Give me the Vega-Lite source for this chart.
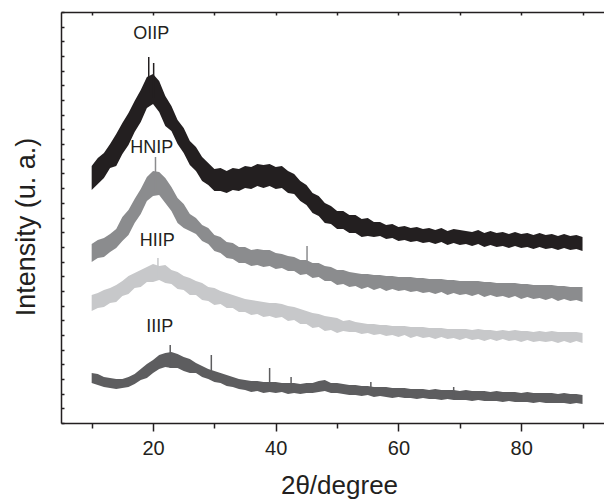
{
  "$schema": "https://vega.github.io/schema/vega-lite/v6.json",
  "width": 543,
  "height": 411,
  "autosize": {"type": "none"},
  "padding": {"left": 61, "top": 12, "right": 0, "bottom": 77},
  "background": "white",
  "config": {
    "view": {"stroke": null},
    "axis": {"grid": false, "domainColor": "#231f20", "domainWidth": 1.5, "tickColor": "#231f20", "tickWidth": 1.5, "labelFont": "Liberation Sans", "titleFont": "Liberation Sans", "labelColor": "#231f20", "titleColor": "#231f20", "titleFontWeight": "normal"}
  },
  "datasets": {
    "xrd": [
      {"s":"OIIP","x":10,"lo":233,"hi":257},{"s":"OIIP","x":11,"lo":239,"hi":265},{"s":"OIIP","x":12,"lo":245,"hi":270},{"s":"OIIP","x":13,"lo":255,"hi":279},{"s":"OIIP","x":14,"lo":257,"hi":289},{"s":"OIIP","x":15,"lo":269,"hi":300},{"s":"OIIP","x":16,"lo":278,"hi":310},{"s":"OIIP","x":17,"lo":291,"hi":322},{"s":"OIIP","x":18,"lo":301,"hi":333},{"s":"OIIP","x":19,"lo":315,"hi":346},{"s":"OIIP","x":20,"lo":319,"hi":349},{"s":"OIIP","x":21,"lo":311,"hi":342},{"s":"OIIP","x":22,"lo":297,"hi":327},{"s":"OIIP","x":23,"lo":292,"hi":317},{"s":"OIIP","x":24,"lo":279,"hi":303},{"s":"OIIP","x":25,"lo":270,"hi":295},{"s":"OIIP","x":26,"lo":258,"hi":282},{"s":"OIIP","x":27,"lo":252,"hi":276},{"s":"OIIP","x":28,"lo":242,"hi":266},{"s":"OIIP","x":29,"lo":238,"hi":260},{"s":"OIIP","x":30,"lo":232,"hi":254},{"s":"OIIP","x":31,"lo":232,"hi":255},{"s":"OIIP","x":32,"lo":230,"hi":252},{"s":"OIIP","x":33,"lo":233,"hi":255},{"s":"OIIP","x":34,"lo":232,"hi":254},{"s":"OIIP","x":35,"lo":235,"hi":257},{"s":"OIIP","x":36,"lo":234,"hi":256},{"s":"OIIP","x":37,"lo":237,"hi":259},{"s":"OIIP","x":38,"lo":235,"hi":258},{"s":"OIIP","x":39,"lo":237,"hi":259},{"s":"OIIP","x":40,"lo":234,"hi":256},{"s":"OIIP","x":41,"lo":235,"hi":257},{"s":"OIIP","x":42,"lo":230,"hi":252},{"s":"OIIP","x":43,"lo":229,"hi":249},{"s":"OIIP","x":44,"lo":222,"hi":242},{"s":"OIIP","x":45,"lo":218,"hi":238},{"s":"OIIP","x":46,"lo":210,"hi":230},{"s":"OIIP","x":47,"lo":207,"hi":227},{"s":"OIIP","x":48,"lo":200,"hi":220},{"s":"OIIP","x":49,"lo":199,"hi":217},{"s":"OIIP","x":50,"lo":194,"hi":212},{"s":"OIIP","x":51,"lo":194,"hi":212},{"s":"OIIP","x":52,"lo":190,"hi":208},{"s":"OIIP","x":53,"lo":190,"hi":208},{"s":"OIIP","x":54,"lo":186,"hi":204},{"s":"OIIP","x":55,"lo":187,"hi":205},{"s":"OIIP","x":56,"lo":186,"hi":201},{"s":"OIIP","x":57,"lo":187,"hi":201},{"s":"OIIP","x":58,"lo":184,"hi":198},{"s":"OIIP","x":59,"lo":185,"hi":199},{"s":"OIIP","x":60,"lo":182,"hi":196},{"s":"OIIP","x":61,"lo":183,"hi":197},{"s":"OIIP","x":62,"lo":181,"hi":195},{"s":"OIIP","x":63,"lo":182,"hi":196},{"s":"OIIP","x":64,"lo":180,"hi":194},{"s":"OIIP","x":65,"lo":181,"hi":195},{"s":"OIIP","x":66,"lo":179,"hi":193},{"s":"OIIP","x":67,"lo":181,"hi":195},{"s":"OIIP","x":68,"lo":178,"hi":192},{"s":"OIIP","x":69,"lo":180,"hi":194},{"s":"OIIP","x":70,"lo":178,"hi":193},{"s":"OIIP","x":71,"lo":179,"hi":192},{"s":"OIIP","x":72,"lo":177,"hi":191},{"s":"OIIP","x":73,"lo":179,"hi":193},{"s":"OIIP","x":74,"lo":176,"hi":190},{"s":"OIIP","x":75,"lo":178,"hi":192},{"s":"OIIP","x":76,"lo":176,"hi":190},{"s":"OIIP","x":77,"lo":177,"hi":191},{"s":"OIIP","x":78,"lo":175,"hi":189},{"s":"OIIP","x":79,"lo":177,"hi":191},{"s":"OIIP","x":80,"lo":175,"hi":189},{"s":"OIIP","x":81,"lo":176,"hi":190},{"s":"OIIP","x":82,"lo":174,"hi":188},{"s":"OIIP","x":83,"lo":176,"hi":190},{"s":"OIIP","x":84,"lo":174,"hi":188},{"s":"OIIP","x":85,"lo":175,"hi":189},{"s":"OIIP","x":86,"lo":173,"hi":187},{"s":"OIIP","x":87,"lo":175,"hi":189},{"s":"OIIP","x":88,"lo":173,"hi":187},{"s":"OIIP","x":89,"lo":174,"hi":188},{"s":"OIIP","x":90,"lo":172,"hi":186},
      {"s":"HNIP","x":10,"lo":161,"hi":179},{"s":"HNIP","x":11,"lo":165,"hi":183},{"s":"HNIP","x":12,"lo":166,"hi":185},{"s":"HNIP","x":13,"lo":171,"hi":189},{"s":"HNIP","x":14,"lo":175,"hi":194},{"s":"HNIP","x":15,"lo":182,"hi":206},{"s":"HNIP","x":16,"lo":188,"hi":213},{"s":"HNIP","x":17,"lo":200,"hi":224},{"s":"HNIP","x":18,"lo":209,"hi":234},{"s":"HNIP","x":19,"lo":222,"hi":246},{"s":"HNIP","x":20,"lo":227,"hi":252},{"s":"HNIP","x":21,"lo":228,"hi":251},{"s":"HNIP","x":22,"lo":220,"hi":245},{"s":"HNIP","x":23,"lo":212,"hi":236},{"s":"HNIP","x":24,"lo":200,"hi":225},{"s":"HNIP","x":25,"lo":195,"hi":219},{"s":"HNIP","x":26,"lo":192,"hi":209},{"s":"HNIP","x":27,"lo":189,"hi":205},{"s":"HNIP","x":28,"lo":182,"hi":198},{"s":"HNIP","x":29,"lo":179,"hi":195},{"s":"HNIP","x":30,"lo":172,"hi":188},{"s":"HNIP","x":31,"lo":170,"hi":186},{"s":"HNIP","x":32,"lo":165,"hi":181},{"s":"HNIP","x":33,"lo":164,"hi":180},{"s":"HNIP","x":34,"lo":160,"hi":176},{"s":"HNIP","x":35,"lo":160,"hi":176},{"s":"HNIP","x":36,"lo":157,"hi":173},{"s":"HNIP","x":37,"lo":158,"hi":174},{"s":"HNIP","x":38,"lo":156,"hi":173},{"s":"HNIP","x":39,"lo":157,"hi":173},{"s":"HNIP","x":40,"lo":154,"hi":170},{"s":"HNIP","x":41,"lo":155,"hi":169},{"s":"HNIP","x":42,"lo":152,"hi":167},{"s":"HNIP","x":43,"lo":152,"hi":166},{"s":"HNIP","x":44,"lo":148,"hi":163},{"s":"HNIP","x":45,"lo":149,"hi":163},{"s":"HNIP","x":46,"lo":145,"hi":160},{"s":"HNIP","x":47,"lo":146,"hi":160},{"s":"HNIP","x":48,"lo":142,"hi":157},{"s":"HNIP","x":49,"lo":142,"hi":156},{"s":"HNIP","x":50,"lo":138,"hi":153},{"s":"HNIP","x":51,"lo":139,"hi":153},{"s":"HNIP","x":52,"lo":136,"hi":151},{"s":"HNIP","x":53,"lo":137,"hi":150},{"s":"HNIP","x":54,"lo":134,"hi":149},{"s":"HNIP","x":55,"lo":136,"hi":149},{"s":"HNIP","x":56,"lo":133,"hi":148},{"s":"HNIP","x":57,"lo":135,"hi":148},{"s":"HNIP","x":58,"lo":132,"hi":147},{"s":"HNIP","x":59,"lo":134,"hi":147},{"s":"HNIP","x":60,"lo":132,"hi":146},{"s":"HNIP","x":61,"lo":133,"hi":146},{"s":"HNIP","x":62,"lo":131,"hi":146},{"s":"HNIP","x":63,"lo":132,"hi":145},{"s":"HNIP","x":64,"lo":130,"hi":145},{"s":"HNIP","x":65,"lo":131,"hi":144},{"s":"HNIP","x":66,"lo":129,"hi":144},{"s":"HNIP","x":67,"lo":131,"hi":144},{"s":"HNIP","x":68,"lo":128,"hi":143},{"s":"HNIP","x":69,"lo":130,"hi":143},{"s":"HNIP","x":70,"lo":128,"hi":142},{"s":"HNIP","x":71,"lo":129,"hi":142},{"s":"HNIP","x":72,"lo":127,"hi":142},{"s":"HNIP","x":73,"lo":129,"hi":142},{"s":"HNIP","x":74,"lo":126,"hi":141},{"s":"HNIP","x":75,"lo":128,"hi":141},{"s":"HNIP","x":76,"lo":126,"hi":140},{"s":"HNIP","x":77,"lo":127,"hi":140},{"s":"HNIP","x":78,"lo":125,"hi":140},{"s":"HNIP","x":79,"lo":127,"hi":140},{"s":"HNIP","x":80,"lo":124,"hi":139},{"s":"HNIP","x":81,"lo":126,"hi":139},{"s":"HNIP","x":82,"lo":124,"hi":138},{"s":"HNIP","x":83,"lo":125,"hi":138},{"s":"HNIP","x":84,"lo":123,"hi":138},{"s":"HNIP","x":85,"lo":125,"hi":138},{"s":"HNIP","x":86,"lo":122,"hi":137},{"s":"HNIP","x":87,"lo":124,"hi":137},{"s":"HNIP","x":88,"lo":122,"hi":136},{"s":"HNIP","x":89,"lo":123,"hi":136},{"s":"HNIP","x":90,"lo":121,"hi":136},
      {"s":"HIIP","x":10,"lo":112,"hi":128},{"s":"HIIP","x":11,"lo":115,"hi":130},{"s":"HIIP","x":12,"lo":116,"hi":133},{"s":"HIIP","x":13,"lo":120,"hi":135},{"s":"HIIP","x":14,"lo":121,"hi":138},{"s":"HIIP","x":15,"lo":127,"hi":142},{"s":"HIIP","x":16,"lo":129,"hi":147},{"s":"HIIP","x":17,"lo":135,"hi":150},{"s":"HIIP","x":18,"lo":136,"hi":153},{"s":"HIIP","x":19,"lo":141,"hi":156},{"s":"HIIP","x":20,"lo":141,"hi":159},{"s":"HIIP","x":21,"lo":143,"hi":157},{"s":"HIIP","x":22,"lo":140,"hi":158},{"s":"HIIP","x":23,"lo":139,"hi":153},{"s":"HIIP","x":24,"lo":134,"hi":151},{"s":"HIIP","x":25,"lo":133,"hi":147},{"s":"HIIP","x":26,"lo":128,"hi":145},{"s":"HIIP","x":27,"lo":128,"hi":142},{"s":"HIIP","x":28,"lo":123,"hi":140},{"s":"HIIP","x":29,"lo":122,"hi":136},{"s":"HIIP","x":30,"lo":118,"hi":135},{"s":"HIIP","x":31,"lo":119,"hi":132},{"s":"HIIP","x":32,"lo":115,"hi":130},{"s":"HIIP","x":33,"lo":115,"hi":128},{"s":"HIIP","x":34,"lo":111,"hi":126},{"s":"HIIP","x":35,"lo":111,"hi":124},{"s":"HIIP","x":36,"lo":108,"hi":123},{"s":"HIIP","x":37,"lo":109,"hi":122},{"s":"HIIP","x":38,"lo":106,"hi":121},{"s":"HIIP","x":39,"lo":107,"hi":120},{"s":"HIIP","x":40,"lo":105,"hi":120},{"s":"HIIP","x":41,"lo":106,"hi":119},{"s":"HIIP","x":42,"lo":102,"hi":117},{"s":"HIIP","x":43,"lo":103,"hi":116},{"s":"HIIP","x":44,"lo":99,"hi":114},{"s":"HIIP","x":45,"lo":99,"hi":112},{"s":"HIIP","x":46,"lo":95,"hi":110},{"s":"HIIP","x":47,"lo":96,"hi":109},{"s":"HIIP","x":48,"lo":92,"hi":107},{"s":"HIIP","x":49,"lo":93,"hi":106},{"s":"HIIP","x":50,"lo":90,"hi":105},{"s":"HIIP","x":51,"lo":92,"hi":102},{"s":"HIIP","x":52,"lo":91,"hi":103},{"s":"HIIP","x":53,"lo":91,"hi":101},{"s":"HIIP","x":54,"lo":89,"hi":100},{"s":"HIIP","x":55,"lo":90,"hi":99},{"s":"HIIP","x":56,"lo":88,"hi":99},{"s":"HIIP","x":57,"lo":89,"hi":98},{"s":"HIIP","x":58,"lo":87,"hi":98},{"s":"HIIP","x":59,"lo":88,"hi":97},{"s":"HIIP","x":60,"lo":86,"hi":97},{"s":"HIIP","x":61,"lo":88,"hi":97},{"s":"HIIP","x":62,"lo":85,"hi":96},{"s":"HIIP","x":63,"lo":87,"hi":96},{"s":"HIIP","x":64,"lo":85,"hi":96},{"s":"HIIP","x":65,"lo":86,"hi":95},{"s":"HIIP","x":66,"lo":84,"hi":95},{"s":"HIIP","x":67,"lo":86,"hi":95},{"s":"HIIP","x":68,"lo":84,"hi":94},{"s":"HIIP","x":69,"lo":85,"hi":94},{"s":"HIIP","x":70,"lo":83,"hi":94},{"s":"HIIP","x":71,"lo":85,"hi":94},{"s":"HIIP","x":72,"lo":83,"hi":93},{"s":"HIIP","x":73,"lo":84,"hi":94},{"s":"HIIP","x":74,"lo":82,"hi":93},{"s":"HIIP","x":75,"lo":84,"hi":93},{"s":"HIIP","x":76,"lo":82,"hi":92},{"s":"HIIP","x":77,"lo":84,"hi":93},{"s":"HIIP","x":78,"lo":82,"hi":92},{"s":"HIIP","x":79,"lo":83,"hi":93},{"s":"HIIP","x":80,"lo":81,"hi":92},{"s":"HIIP","x":81,"lo":83,"hi":92},{"s":"HIIP","x":82,"lo":81,"hi":91},{"s":"HIIP","x":83,"lo":82,"hi":92},{"s":"HIIP","x":84,"lo":81,"hi":91},{"s":"HIIP","x":85,"lo":82,"hi":92},{"s":"HIIP","x":86,"lo":80,"hi":91},{"s":"HIIP","x":87,"lo":82,"hi":91},{"s":"HIIP","x":88,"lo":80,"hi":91},{"s":"HIIP","x":89,"lo":82,"hi":91},{"s":"HIIP","x":90,"lo":80,"hi":90},
      {"s":"IIIP","x":10,"lo":40,"hi":50},{"s":"IIIP","x":11,"lo":38,"hi":49},{"s":"IIIP","x":12,"lo":36,"hi":46},{"s":"IIIP","x":13,"lo":35,"hi":45},{"s":"IIIP","x":14,"lo":34,"hi":44},{"s":"IIIP","x":15,"lo":35,"hi":44},{"s":"IIIP","x":16,"lo":36,"hi":46},{"s":"IIIP","x":17,"lo":39,"hi":49},{"s":"IIIP","x":18,"lo":43,"hi":54},{"s":"IIIP","x":19,"lo":45,"hi":59},{"s":"IIIP","x":20,"lo":50,"hi":63},{"s":"IIIP","x":21,"lo":54,"hi":68},{"s":"IIIP","x":22,"lo":56,"hi":70},{"s":"IIIP","x":23,"lo":55,"hi":71},{"s":"IIIP","x":24,"lo":55,"hi":69},{"s":"IIIP","x":25,"lo":52,"hi":66},{"s":"IIIP","x":26,"lo":50,"hi":64},{"s":"IIIP","x":27,"lo":50,"hi":60},{"s":"IIIP","x":28,"lo":46,"hi":57},{"s":"IIIP","x":29,"lo":44,"hi":54},{"s":"IIIP","x":30,"lo":41,"hi":52},{"s":"IIIP","x":31,"lo":40,"hi":50},{"s":"IIIP","x":32,"lo":37,"hi":48},{"s":"IIIP","x":33,"lo":36,"hi":46},{"s":"IIIP","x":34,"lo":34,"hi":44},{"s":"IIIP","x":35,"lo":33,"hi":43},{"s":"IIIP","x":36,"lo":31,"hi":42},{"s":"IIIP","x":37,"lo":32,"hi":42},{"s":"IIIP","x":38,"lo":30,"hi":41},{"s":"IIIP","x":39,"lo":31,"hi":41},{"s":"IIIP","x":40,"lo":30,"hi":41},{"s":"IIIP","x":41,"lo":31,"hi":40},{"s":"IIIP","x":42,"lo":29,"hi":40},{"s":"IIIP","x":43,"lo":30,"hi":40},{"s":"IIIP","x":44,"lo":29,"hi":39},{"s":"IIIP","x":45,"lo":30,"hi":40},{"s":"IIIP","x":46,"lo":30,"hi":40},{"s":"IIIP","x":47,"lo":31,"hi":42},{"s":"IIIP","x":48,"lo":32,"hi":43},{"s":"IIIP","x":49,"lo":30,"hi":40},{"s":"IIIP","x":50,"lo":30,"hi":40},{"s":"IIIP","x":51,"lo":29,"hi":39},{"s":"IIIP","x":52,"lo":28,"hi":38},{"s":"IIIP","x":53,"lo":28,"hi":38},{"s":"IIIP","x":54,"lo":27,"hi":37},{"s":"IIIP","x":55,"lo":28,"hi":37},{"s":"IIIP","x":56,"lo":26,"hi":36},{"s":"IIIP","x":57,"lo":27,"hi":36},{"s":"IIIP","x":58,"lo":26,"hi":36},{"s":"IIIP","x":59,"lo":25,"hi":35},{"s":"IIIP","x":60,"lo":26,"hi":35},{"s":"IIIP","x":61,"lo":25,"hi":35},{"s":"IIIP","x":62,"lo":25,"hi":34},{"s":"IIIP","x":63,"lo":24,"hi":34},{"s":"IIIP","x":64,"lo":25,"hi":34},{"s":"IIIP","x":65,"lo":24,"hi":33},{"s":"IIIP","x":66,"lo":24,"hi":34},{"s":"IIIP","x":67,"lo":23,"hi":33},{"s":"IIIP","x":68,"lo":24,"hi":33},{"s":"IIIP","x":69,"lo":23,"hi":33},{"s":"IIIP","x":70,"lo":23,"hi":32},{"s":"IIIP","x":71,"lo":23,"hi":33},{"s":"IIIP","x":72,"lo":22,"hi":32},{"s":"IIIP","x":73,"lo":23,"hi":32},{"s":"IIIP","x":74,"lo":22,"hi":32},{"s":"IIIP","x":75,"lo":22,"hi":31},{"s":"IIIP","x":76,"lo":22,"hi":32},{"s":"IIIP","x":77,"lo":21,"hi":31},{"s":"IIIP","x":78,"lo":22,"hi":31},{"s":"IIIP","x":79,"lo":21,"hi":31},{"s":"IIIP","x":80,"lo":21,"hi":30},{"s":"IIIP","x":81,"lo":21,"hi":31},{"s":"IIIP","x":82,"lo":20,"hi":30},{"s":"IIIP","x":83,"lo":21,"hi":30},{"s":"IIIP","x":84,"lo":20,"hi":30},{"s":"IIIP","x":85,"lo":20,"hi":30},{"s":"IIIP","x":86,"lo":20,"hi":29},{"s":"IIIP","x":87,"lo":20,"hi":30},{"s":"IIIP","x":88,"lo":19,"hi":29},{"s":"IIIP","x":89,"lo":20,"hi":29},{"s":"IIIP","x":90,"lo":19,"hi":28}
    ],
    "spikes": [
      {"s":"OIIP","x":19.3,"lo":330,"hi":366},{"s":"OIIP","x":20.1,"lo":325,"hi":360},
      {"s":"HNIP","x":20.4,"lo":230,"hi":266},{"s":"HNIP","x":45.1,"lo":150,"hi":177},
      {"s":"HIIP","x":20.8,"lo":145,"hi":165},
      {"s":"IIIP","x":22.8,"lo":55,"hi":78},{"s":"IIIP","x":29.5,"lo":45,"hi":68},{"s":"IIIP","x":39,"lo":35,"hi":55},{"s":"IIIP","x":42.5,"lo":32,"hi":46},{"s":"IIIP","x":55.5,"lo":30,"hi":41},{"s":"IIIP","x":69,"lo":25,"hi":36}
    ],
    "labels": [
      {"label":"OIIP","x":19.7,"v":389},
      {"label":"HNIP","x":19.8,"v":275},
      {"label":"HIIP","x":20.7,"v":182},
      {"label":"IIIP","x":21.1,"v":96}
    ]
  },
  "layer": [
    {
      "data": {"name": "xrd"},
      "mark": {"type": "area", "interpolate": "linear"},
      "encoding": {
        "x": {"field": "x", "type": "quantitative", "scale": {"domain": [5, 93.5], "nice": false, "zero": false},
          "axis": {"orient": "bottom", "values": [10,20,30,40,50,60,70,80,90],
            "tickSize": {"condition": {"test": "datum.value % 20 === 0", "value": 8}, "value": 5},
            "labelExpr": "datum.value % 20 === 0 ? datum.label : ''",
            "labelFontSize": 20, "labelBaseline": "alphabetic", "labelPadding": 23, "labelFlush": false, "labelOverlap": false,
            "title": "2θ/degree", "titleFontSize": 26, "titleX": 278, "titleY": 70, "titleAlign": "center", "titleBaseline": "alphabetic", "titleAnchor": null}},
        "y": {"field": "lo", "type": "quantitative", "scale": {"domain": [0, 411], "nice": false, "zero": false},
          "axis": {"orient": "left", "values": [0,14.68,29.36,44.04,58.71,73.39,88.07,102.75,117.43,132.11,146.79,161.46,176.14,190.82,205.5,220.18,234.86,249.54,264.21,278.89,293.57,308.25,322.93,337.61,352.29,366.96,381.64,396.32,411],
            "tickSize": -3, "labels": false, "domain": true,
            "title": "Intensity (u. a.)", "titleFontSize": 27, "titleAngle": -90, "titleX": -27, "titleY": 214.5, "titleAlign": "center", "titleBaseline": "alphabetic"}},
        "y2": {"field": "hi"},
        "color": {"field": "s", "type": "nominal", "scale": {"domain": ["OIIP","HNIP","HIIP","IIIP"], "range": ["#231f20","#8b8c8e","#c7c8ca","#5d5d5f"]}, "legend": null}
      }
    },
    {
      "data": {"name": "spikes"},
      "mark": {"type": "rule", "strokeWidth": 1.5},
      "encoding": {
        "x": {"field": "x", "type": "quantitative",
          "axis": {"orient": "top", "values": [10,20,30,40,50,60,70,80,90], "tickSize": -3, "labels": false, "title": null}},
        "y": {"field": "lo", "type": "quantitative", "axis": null},
        "y2": {"field": "hi"},
        "color": {"field": "s", "type": "nominal", "legend": null}
      }
    },
    {
      "data": {"name": "labels"},
      "mark": {"type": "text", "font": "Liberation Sans", "fontSize": 18, "color": "#231f20", "align": "center", "baseline": "middle"},
      "encoding": {
        "x": {"field": "x", "type": "quantitative", "axis": null},
        "y": {"field": "v", "type": "quantitative", "axis": null},
        "text": {"field": "label"}
      }
    }
  ],
  "resolve": {"axis": {"x": "independent", "y": "independent"}}
}
